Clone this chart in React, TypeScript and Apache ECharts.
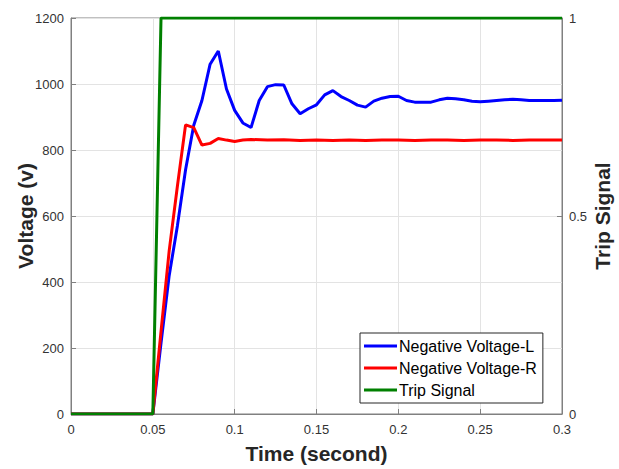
import React, { useEffect, useRef } from "react";
import * as echarts from "echarts";

const timeL = [0, 0.05, 0.055, 0.06, 0.065, 0.07, 0.075, 0.08, 0.085, 0.09, 0.095, 0.1, 0.105, 0.11, 0.115, 0.12, 0.125, 0.13, 0.135, 0.14, 0.145, 0.15, 0.155, 0.16, 0.165, 0.17, 0.175, 0.18, 0.185, 0.19, 0.195, 0.2, 0.205, 0.21, 0.215, 0.22, 0.225, 0.23, 0.235, 0.24, 0.245, 0.25, 0.255, 0.26, 0.265, 0.27, 0.275, 0.28, 0.285, 0.29, 0.295, 0.3];
const voltL = [0, 0, 215, 420, 570, 740, 875, 950, 1060, 1100, 985, 920, 882, 868, 950, 992, 998, 997, 940, 910, 925, 937, 967, 980, 962, 950, 936, 930, 948, 957, 962, 963, 950, 945, 945, 945, 952, 957, 955, 952, 948, 946, 948, 950, 952, 954, 952, 950, 950, 950, 950, 951];

const timeR = [0, 0.05, 0.055, 0.06, 0.065, 0.07, 0.075, 0.08, 0.085, 0.09, 0.095, 0.1, 0.105, 0.11, 0.12, 0.13, 0.14, 0.15, 0.16, 0.17, 0.18, 0.19, 0.2, 0.21, 0.22, 0.23, 0.24, 0.25, 0.26, 0.27, 0.28, 0.29, 0.3];
const voltR = [0, 0, 250, 495, 690, 876, 868, 815, 820, 835, 830, 826, 830, 832, 830, 831, 829, 830, 829, 830, 829, 830, 830, 829, 830, 830, 829, 830, 830, 829, 830, 830, 830];

const timeTrip = [0, 0.05, 0.055, 0.3];
const tripSignal = [0, 0, 1, 1];

const xTicks = ["0", "0.05", "0.1", "0.15", "0.2", "0.25", "0.3"];
const seriesNames = ["Negative Voltage-L", "Negative Voltage-R", "Trip Signal"];

const FONT = "'Liberation Sans', Arial, Helvetica, sans-serif";

export default function App() {
  const ref = useRef<HTMLDivElement>(null);
  useEffect(() => {
    if (!ref.current) return;
    const chart = echarts.init(ref.current, undefined, { renderer: "svg" });
    const zip = (t: number[], v: number[]) => t.map((x, i) => [x, v[i]]);
    const axisLine = { show: true, lineStyle: { color: "#808080", width: 1 } };
    const labelStyle = { color: "#333333", fontSize: 13, fontFamily: FONT };
    const nameStyle = { fontSize: 21, fontWeight: "bold", color: "#262626", fontFamily: FONT };
    chart.setOption({
      animation: false,
      backgroundColor: "#ffffff",
      grid: {
        left: 71,
        right: 57,
        top: 18,
        bottom: 55,
        show: true,
        borderColor: "#808080",
        borderWidth: 1,
        backgroundColor: "transparent",
        containLabel: false,
        outerBoundsMode: "none",
      },
      legend: {
        orient: "vertical",
        left: 360,
        top: 333,
        data: seriesNames,
        icon: "rect",
        itemWidth: 33,
        itemHeight: 3,
        itemGap: 6,
        padding: [5, 6, 5, 4],
        borderColor: "#262626",
        borderWidth: 1,
        backgroundColor: "#ffffff",
        textStyle: { fontSize: 16, color: "#000000", fontFamily: FONT, padding: [0, 0, 0, -3] },
      },
      xAxis: {
        type: "value",
        min: 0,
        max: 0.3,
        interval: 0.05,
        name: "Time (second)",
        nameLocation: "middle",
        nameGap: 29,
        nameMoveOverlap: false,
        nameTextStyle: nameStyle,
        axisLine,
        axisTick: { show: true, inside: true, length: 5, lineStyle: { color: "#808080" } },
        axisLabel: {
          ...labelStyle,
          margin: 9,
          formatter: (v: number) => xTicks[Math.round(v / 0.05)] ?? "",
        },
        splitLine: { show: true, lineStyle: { color: "#e3e3e3", width: 1 } },
      },
      yAxis: [
        {
          type: "value",
          min: 0,
          max: 1200,
          interval: 200,
          name: "Voltage (v)",
          nameLocation: "middle",
          nameGap: 35,
          nameRotate: 90,
          nameMoveOverlap: false,
          nameTextStyle: nameStyle,
          axisLine,
          axisTick: { show: true, inside: true, length: 5, lineStyle: { color: "#808080" } },
          axisLabel: { ...labelStyle, margin: 7, formatter: (v: number) => String(v) },
          splitLine: { show: true, lineStyle: { color: "#e3e3e3", width: 1 } },
        },
        {
          type: "value",
          min: 0,
          max: 1,
          interval: 0.5,
          position: "right",
          name: "Trip Signal",
          nameLocation: "middle",
          nameGap: 30,
          nameRotate: 90,
          nameMoveOverlap: false,
          nameTextStyle: nameStyle,
          axisLine,
          axisTick: { show: true, inside: true, length: 5, lineStyle: { color: "#808080" } },
          axisLabel: { ...labelStyle, margin: 7, formatter: (v: number) => String(v) },
          splitLine: { show: false },
        },
      ],
      series: [
        {
          name: seriesNames[0],
          type: "line",
          yAxisIndex: 0,
          data: zip(timeL, voltL),
          showSymbol: false,
          symbol: "none",
          lineStyle: { color: "#0000ff", width: 3 },
          itemStyle: { color: "#0000ff" },
          z: 3,
        },
        {
          name: seriesNames[1],
          type: "line",
          yAxisIndex: 0,
          data: zip(timeR, voltR),
          showSymbol: false,
          symbol: "none",
          lineStyle: { color: "#ff0000", width: 3 },
          itemStyle: { color: "#ff0000" },
          z: 4,
        },
        {
          name: seriesNames[2],
          type: "line",
          yAxisIndex: 1,
          data: zip(timeTrip, tripSignal),
          showSymbol: false,
          symbol: "none",
          lineStyle: { color: "#008000", width: 3 },
          itemStyle: { color: "#008000" },
          z: 5,
        },
      ],
    });
    return () => chart.dispose();
  }, []);
  return <div ref={ref} style={{ width: 619, height: 469, position: "absolute", left: 0, top: 0 }} />;
}
